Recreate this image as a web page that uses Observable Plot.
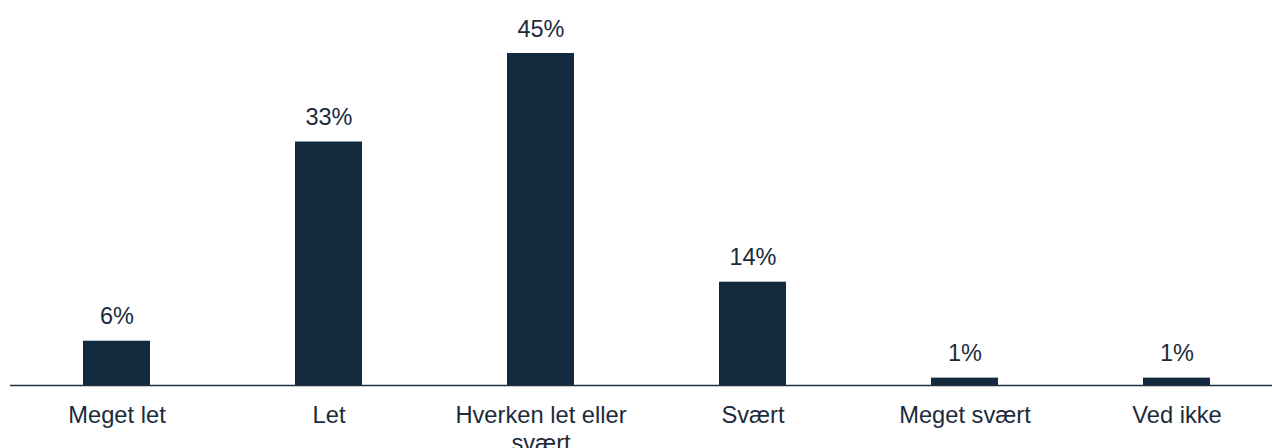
<!DOCTYPE html>
<html>
<head>
<meta charset="utf-8">
<script src="https://cdn.jsdelivr.net/npm/d3@7"></script>
<script src="https://cdn.jsdelivr.net/npm/@observablehq/plot@0.6"></script>
<style>
  html, body { margin: 0; padding: 0; background: #fff; }
  #chart svg { display: block; }
</style>
</head>
<body>
<div id="chart"></div>
<script>
const categories = ["Meget let", "Let", "Hverken let eller svært", "Svært", "Meget svært", "Ved ikke"];
const values = [6, 33, 45, 14, 1, 1];
const valueLabels = ["6%", "33%", "45%", "14%", "1%", "1%"];

const data = categories.map((c, i) => ({category: c, value: values[i], label: valueLabels[i]}));

const barColor = "#13293d";
const textColor = "#1b2b3b";

const chart = Plot.plot({
  width: 1272,
  height: 448,
  marginLeft: 10,
  marginRight: 0,
  marginTop: 53,
  marginBottom: 63,
  style: {fontFamily: "'Liberation Sans', Arial, sans-serif", color: textColor, background: "#fff", overflow: "visible"},
  x: {domain: categories, range: [10, 1282], paddingInner: 0.684, paddingOuter: 0.342, label: null},
  y: {domain: [0, 45], axis: null},
  marks: [
    Plot.barY(data, {x: "category", y: "value", fill: barColor}),
    Plot.ruleY([0], {stroke: "#1f3142", strokeWidth: 1.5}),
    Plot.text(data, {x: "category", y: "value", text: "label", lineAnchor: "bottom", dy: -17, fontSize: 23.5, fill: textColor}),
    Plot.axisX({tickSize: 0, tickPadding: 18, fontSize: 23.7, lineWidth: 9, lineHeight: 1.18, fill: textColor, label: null})
  ]
});
document.getElementById("chart").append(chart);
</script>
</body>
</html>
